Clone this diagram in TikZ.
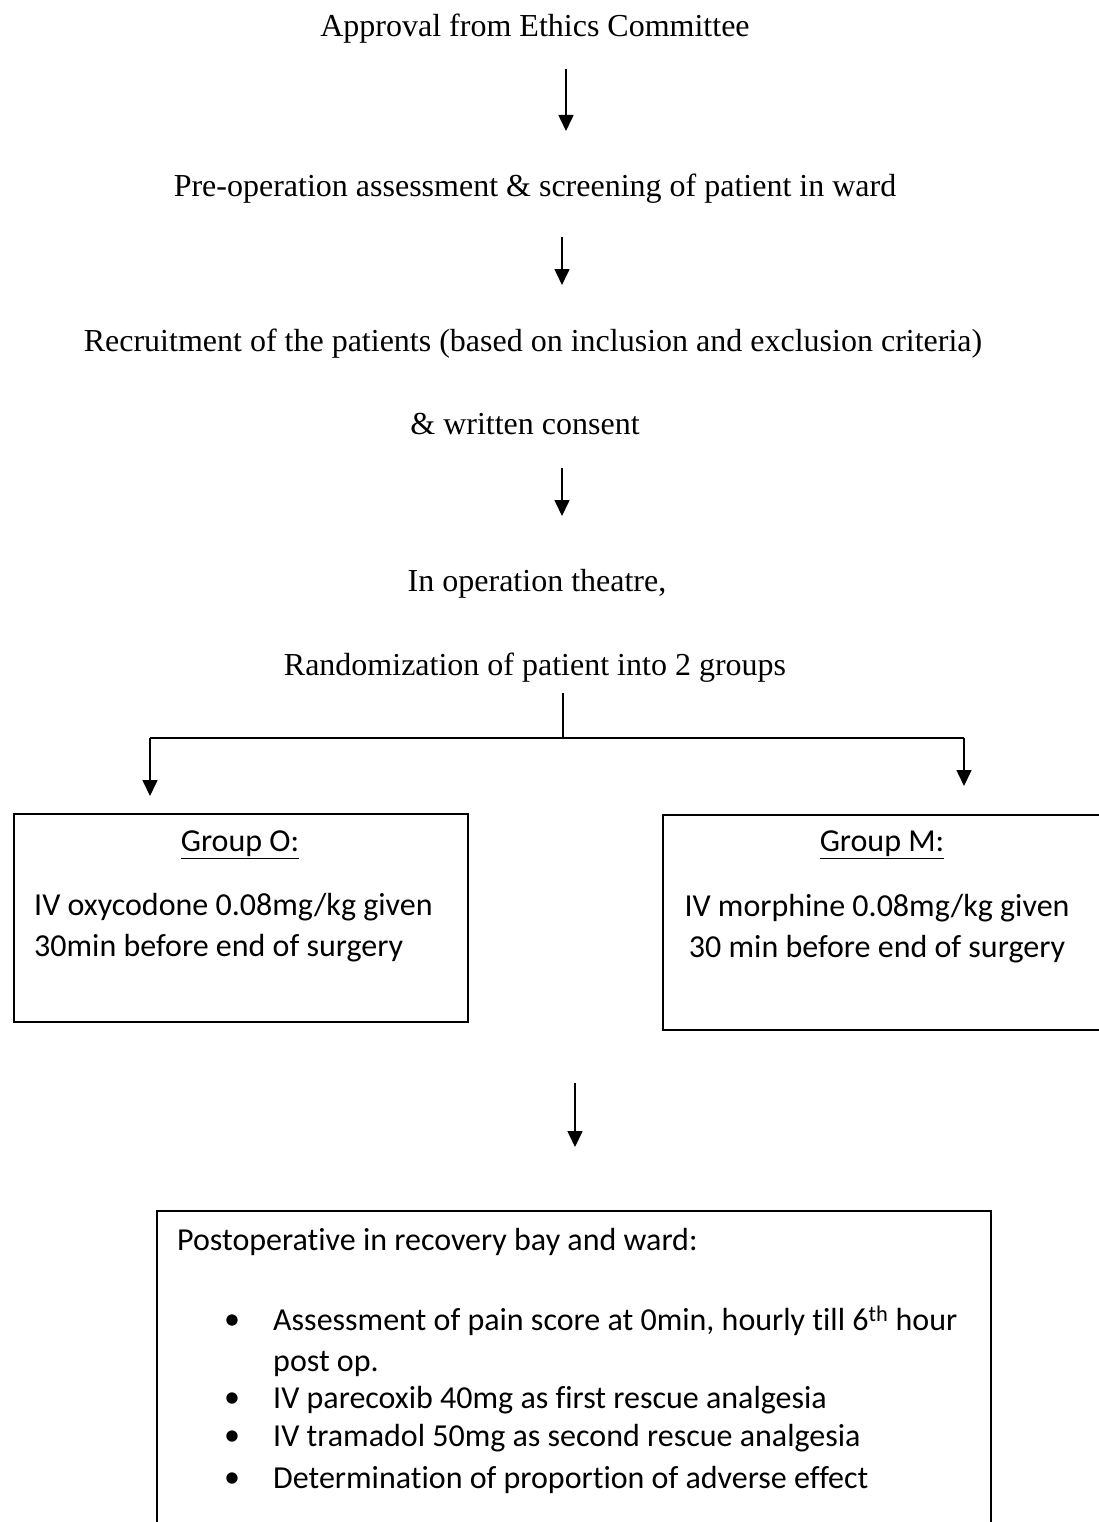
\documentclass[tikz,border=0pt]{standalone}
\usepackage{fontspec}
\setmainfont{Liberation Serif}
\newfontfamily\calibri[Ligatures=NoCommon]{Carlito}
\usetikzlibrary{arrows.meta}

\begin{document}
\begin{tikzpicture}[x=1pt,y=-1pt,
  arr/.style={line width=1.6pt,-{Triangle[width=15pt,length=16pt]}},
  bus/.style={line width=1.6pt},
  flowtxt/.style={font=\fontsize{32}{38}\selectfont,inner sep=0pt},
  boxtxt/.style={font=\calibri\fontsize{32}{41}\selectfont,inner sep=0pt},
  grpbox/.style={draw,line width=2pt,inner sep=0pt,anchor=north west}]
  \useasboundingbox (0,0) rectangle (1098,1522);

  % 流程文字
  \node[flowtxt] (approval) at (535,29) {Approval from Ethics Committee};
  \node[flowtxt] (preop) at (535,189) {Pre-operation assessment \& screening of patient in ward};
  \node[flowtxt] (recruit) at (533,344) {Recruitment of the patients (based on inclusion and exclusion criteria)};
  \node[flowtxt] (consent) at (525,424) {\& written consent};
  \node[flowtxt] (theatre) at (537,584) {In operation theatre,};
  \node[flowtxt] (random) at (535,668) {Randomization of patient into 2 groups};

  % 箭头端点
  \coordinate (a1s) at (566,69);  \coordinate (a1e) at (566,131);
  \coordinate (a2s) at (562,237); \coordinate (a2e) at (562,285);
  \coordinate (a3s) at (562,468); \coordinate (a3e) at (562,516);
  \draw[arr] (a1s) -- (a1e);
  \draw[arr] (a2s) -- (a2e);
  \draw[arr] (a3s) -- (a3e);

  % 分成两组
  \coordinate (split) at (563,693);
  \coordinate (busL) at (150,738); \coordinate (busR) at (964,738);
  \coordinate (tipL) at (150,796); \coordinate (tipR) at (964,786);
  \draw[bus] (split) -- (split |- busL);
  \draw[bus] (busL) -- (busR);
  \draw[arr] (busL) -- (tipL);
  \draw[arr] (busR) -- (tipR);

  % 两组方框
  \node[grpbox,minimum width=454,minimum height=208] (grpO) at (13,813) {};
  \node[grpbox,minimum width=450,minimum height=215] (grpM) at (662,814) {};
  \node[boxtxt] (hdrO) at (240,845) {\underline{Group O:}};
  \node[boxtxt,anchor=west,align=left] (txtO) at (34,928) {IV oxycodone 0.08mg/kg given\\30min before end of surgery};
  \node[boxtxt] (hdrM) at (882,845) {\underline{Group M:}};
  \node[boxtxt,align=center] (txtM) at (877,929) {IV morphine 0.08mg/kg given\\30 min before end of surgery};

  % 术后
  \coordinate (a4s) at (575,1083); \coordinate (a4e) at (575,1147);
  \draw[arr] (a4s) -- (a4e);
  \node[grpbox,minimum width=834,minimum height=330] (postbox) at (156,1210) {};
  \node[boxtxt,anchor=west] (postop) at (177,1242) {Postoperative in recovery bay and ward:};
  \foreach \y in {1322,1400,1438,1480}
    \node[boxtxt] (bul\y) at (232,\y) {\textbullet};
  \node[boxtxt,anchor=west,align=left] (item1) at (273,1341) {Assessment of pain score at 0min, hourly till 6\textsuperscript{th} hour\\post op.};
  \node[boxtxt,anchor=west] (item2) at (273,1400) {IV parecoxib 40mg as first rescue analgesia};
  \node[boxtxt,anchor=west] (item3) at (273,1438) {IV tramadol 50mg as second rescue analgesia};
  \node[boxtxt,anchor=west] (item4) at (273,1480) {Determination of proportion of adverse effect};
\end{tikzpicture}
\end{document}
